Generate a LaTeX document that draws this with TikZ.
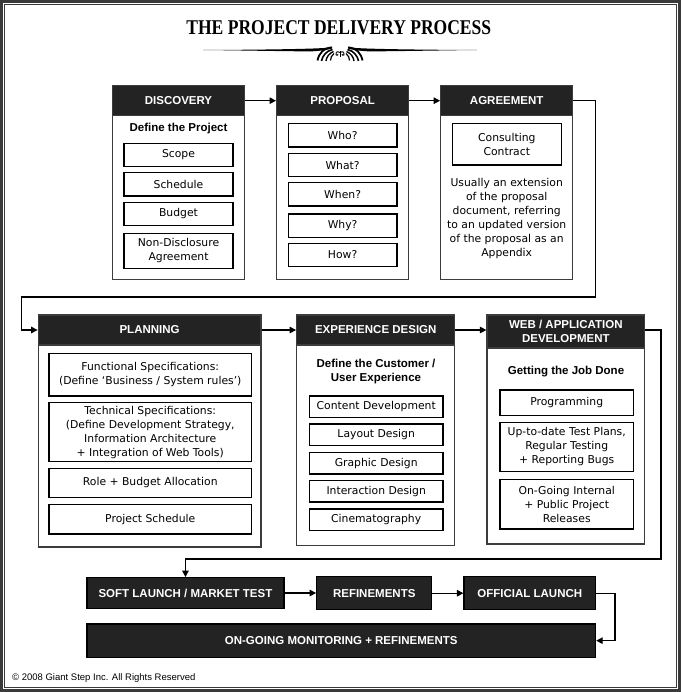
\documentclass[tikz,border=0pt]{standalone}
\usepackage{fontspec}
\usepackage{graphicx}
\usetikzlibrary{arrows.meta}
\newfontfamily\bodyfont{DejaVu Sans}
\newfontfamily\headfont{Liberation Sans}
\newfontfamily\titlefont{Liberation Serif}
\definecolor{framegray}{HTML}{3A3A3A}
\definecolor{headblack}{HTML}{232323}
\definecolor{boxgray}{HTML}{3C3C3C}

\begin{document}
\begin{tikzpicture}[x=1pt,y=-1pt,
  stage/.style={draw=boxgray, line width=1.2, fill=white, inner sep=0},
  head/.style={draw=boxgray, line width=1.2, fill=headblack, text=white, inner sep=0, align=center,
    font=\headfont\bfseries\fontsize{11.5}{13.5}\selectfont},
  item/.style={draw=black, line width=1.3, fill=white, inner sep=0, align=center,
    font=\bodyfont\fontsize{10.8}{14}\selectfont},
  sub/.style={align=center, inner sep=0, font=\headfont\bfseries\fontsize{11.5}{14.3}\selectfont},
  launch/.style={draw=black, line width=1.2, fill=headblack, text=white, inner sep=0,
    font=\headfont\bfseries\fontsize{11.5}{13.5}\selectfont},
  arr/.style={draw=black, line width=1.2, -{Triangle[length=6.5pt,width=6.5pt]}}]

  \useasboundingbox (0,0) rectangle (681,692);

  % frame
  \fill[framegray] (0,0) rectangle (681,692);
  \fill[white] (3,3) rectangle (678,689);
  \draw[framegray, line width=1.1] (4.8,4.8) rectangle (676.2,687.2);

  % title
  \node[anchor=base, inner sep=0] (title) at (338.8,34.3)
    {\scalebox{0.835}[1]{\titlefont\bfseries\fontsize{21}{25}\selectfont THE PROJECT DELIVERY PROCESS}};

  % ornament under the title
  \fill (203,50) .. controls (260,49.8) and (310,49) .. (324,48) .. controls (328,47.6) and (330,47) .. (332,46.5)
    -- (332,48.6) .. controls (328,49.7) and (322,50.9) .. (310,51.4) .. controls (280,51.2) and (240,50.4) .. (203,50) -- cycle;
  \fill (477,50) .. controls (420,49.8) and (370,49) .. (356,48) .. controls (352,47.6) and (350,47) .. (348,46.5)
    -- (348,48.6) .. controls (352,49.7) and (358,50.9) .. (370,51.4) .. controls (400,51.2) and (440,50.4) .. (477,50) -- cycle;
  \draw[line width=1.8] (331,47.5) .. controls (324,48) and (319,53) .. (317.5,60.5);
  \draw[line width=1.6] (332.5,49.5) .. controls (326,51) and (322.5,56) .. (321.5,61);
  \draw[line width=1.4] (333.5,51.5) .. controls (329,53.5) and (326.5,57) .. (326,61);
  \draw[line width=1.2] (334,53.5) .. controls (331.5,55.5) and (330.5,58) .. (330.5,60.5);
  \draw[line width=1.8] (349,47.5) .. controls (356,48) and (361,53) .. (362.5,60.5);
  \draw[line width=1.6] (347.5,49.5) .. controls (354,51) and (357.5,56) .. (358.5,61);
  \draw[line width=1.4] (346.5,51.5) .. controls (351,53.5) and (353.5,57) .. (354,61);
  \draw[line width=1.2] (346,53.5) .. controls (348.5,55.5) and (349.5,58) .. (349.5,60.5);
  \draw[line width=0.9] (340,51) -- (340,57.5);
  \draw[line width=0.9] (340,52.5) .. controls (337,50.5) and (334.5,53) .. (336,55) .. controls (337,56) and (338.5,55) .. (338,54);
  \draw[line width=0.9] (340,52.5) .. controls (343,50.5) and (345.5,53) .. (344,55) .. controls (343,56) and (341.5,55) .. (342,54);

  % discovery
  \node[stage, minimum width=132, minimum height=193.6] (discoverybox) at (178.5,182.5) {};
  \node[head, minimum width=132, minimum height=30] (discovery) at (178.5,100.7) {DISCOVERY};
  \node[sub] (defproject) at (178.5,128.3) {Define the Project};
  \node[item, minimum width=109, minimum height=23.4] (scope) at (178.5,155) {Scope};
  \node[item, minimum width=109, minimum height=23.4] (schedule) at (178.5,184.3) {Schedule};
  \node[item, minimum width=109, minimum height=23.4] (budget) at (178.5,214) {Budget};
  \node[item, minimum width=109, minimum height=35] (nda) at (178.5,250.8) {Non-Disclosure\\Agreement};

  % proposal
  \node[stage, minimum width=132, minimum height=193.6] (proposalbox) at (342.6,182.5) {};
  \node[head, minimum width=132, minimum height=30] (proposal) at (342.6,100.7) {PROPOSAL};
  \node[item, minimum width=108.7, minimum height=23.5] (who) at (342.6,135.2) {Who?};
  \node[item, minimum width=108.7, minimum height=23.5] (what) at (342.6,165) {What?};
  \node[item, minimum width=108.7, minimum height=23.5] (when) at (342.6,194.3) {When?};
  \node[item, minimum width=108.7, minimum height=23.5] (why) at (342.6,225.7) {Why?};
  \node[item, minimum width=108.7, minimum height=23.5] (how) at (342.6,255) {How?};

  % agreement
  \node[stage, minimum width=132, minimum height=193.6] (agreementbox) at (506.7,182.5) {};
  \node[head, minimum width=132, minimum height=30] (agreement) at (506.7,100.7) {AGREEMENT};
  \node[item, minimum width=109, minimum height=41.3] (contract) at (506.8,144.3) {Consulting\\Contract};
  \node[item, draw=none, fill=none] (usually) at (506.7,218.5)
    {Usually an extension\\of the proposal\\document, referring\\to an updated version\\of the proposal as an\\Appendix};

  % planning
  \node[stage, minimum width=222.8, minimum height=232] (planningbox) at (149.6,431) {};
  \node[head, minimum width=222.8, minimum height=30] (planning) at (149.6,330) {PLANNING};
  \node[item, minimum width=202.5, minimum height=42.7] (functional) at (150.25,374.65)
    {Functional Specifications:\\(Define ‘Business / System rules’)};
  \node[item, minimum width=202.5, minimum height=59] (technical) at (150.25,432.2)
    {Technical Specifications:\\(Define Development Strategy,\\Information Architecture\\+ Integration of Web Tools)};
  \node[item, minimum width=202.5, minimum height=29] (role) at (150.25,482.8) {Role + Budget Allocation};
  \node[item, minimum width=202.5, minimum height=29.7] (projschedule) at (150.25,519.15) {Project Schedule};

  % experience design
  \node[stage, minimum width=158.1, minimum height=230.7] (experiencebox) at (375.75,430.35) {};
  \node[head, minimum width=158.1, minimum height=30] (experience) at (375.75,330) {EXPERIENCE DESIGN};
  \node[sub] (defcustomer) at (376,371.2) {Define the Customer /\\User Experience};
  \node[item, minimum width=133.8, minimum height=21.3] (content) at (376.2,406.65) {Content Development};
  \node[item, minimum width=133.8, minimum height=21.3] (layout) at (376.2,434.65) {Layout Design};
  \node[item, minimum width=133.8, minimum height=21.3] (graphic) at (376.2,463.35) {Graphic Design};
  \node[item, minimum width=133.8, minimum height=21.3] (interaction) at (376.2,491.35) {Interaction Design};
  \node[item, minimum width=133.8, minimum height=21.3] (cinema) at (376.2,519.65) {Cinematography};

  % web / application development
  \node[stage, minimum width=157.6, minimum height=229] (webbox) at (565.8,429.5) {};
  \node[head, minimum width=157.6, minimum height=33] (web) at (565.8,331.5) {WEB / APPLICATION\\DEVELOPMENT};
  \node[sub] (jobdone) at (566,372) {Getting the Job Done};
  \node[item, minimum width=133.4, minimum height=25.3] (programming) at (566.7,402.65) {Programming};
  \node[item, minimum width=133.4, minimum height=49.4] (testing) at (566.7,447)
    {Up-to-date Test Plans,\\Regular Testing\\+ Reporting Bugs};
  \node[item, minimum width=133.4, minimum height=49.7] (releases) at (566.7,504.15)
    {On-Going Internal\\+ Public Project\\Releases};

  % launch row
  \node[launch, minimum width=197.1, minimum height=30.6] (soft) at (185.45,593) {SOFT LAUNCH / MARKET TEST};
  \node[launch, minimum width=115.1, minimum height=33] (refine) at (374.25,593.2) {REFINEMENTS};
  \node[launch, minimum width=131.6, minimum height=33] (official) at (529.8,593.2) {OFFICIAL LAUNCH};
  \node[launch, minimum width=508.7, minimum height=33.3] (ongoing) at (341.25,640.65) {ON-GOING MONITORING + REFINEMENTS};

  % turning points
  \coordinate (turnA) at (595.7,297);
  \coordinate (turnB) at (21.7,297);
  \coordinate (turnC) at (661,559);
  \coordinate (turnE) at (615,640.65);

  % connectors
  \draw[arr] (discovery.east) -- (proposal.west);
  \draw[arr] (proposal.east) -- (agreement.west);
  \draw[arr] (agreement.east) -| (turnA) -- (turnB) |- (planning.west);
  \draw[arr] (planning.east) -- (experience.west);
  \draw[arr] (experience.east) -- (experience.east -| web.west);
  \draw[arr] (web.east |- experience.east) -| (turnC) -| (soft.north);
  \draw[arr] (soft.east) -- (soft.east -| refine.west);
  \draw[arr] (refine.east) -- (official.west);
  \draw[arr] (official.east) -| (turnE) -- (ongoing.east);

  % copyright
  \node[anchor=base west, inner sep=0, font=\headfont\fontsize{9.5}{11}\selectfont] (copyright) at (12,680.7)
    {© 2008 Giant Step Inc. All Rights Reserved};
\end{tikzpicture}
\end{document}
